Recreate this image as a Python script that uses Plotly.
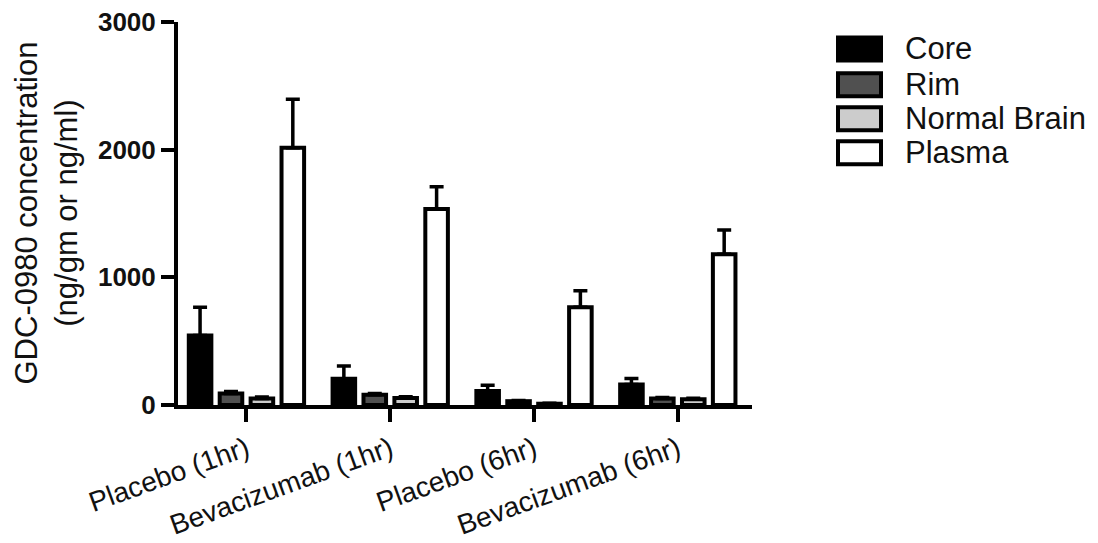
import plotly.graph_objects as go

# ---- data ----
categories = ["Placebo (1hr)", "Bevacizumab (1hr)", "Placebo (6hr)", "Bevacizumab (6hr)"]
series_names = ["Core", "Rim", "Normal Brain", "Plasma"]
core = [545, 205, 110, 160]
core_err = [220, 100, 45, 47]
rim = [90, 80, 30, 50]
rim_err = [15, 10, 5, 8]
normal_brain = [50, 55, 10, 45]
normal_brain_err = [12, 10, 3, 8]
plasma = [2015, 1535, 765, 1180]
plasma_err = [380, 175, 130, 190]
y_ticks = [0, 1000, 2000, 3000]

values = [core, rim, normal_brain, plasma]
errors = [core_err, rim_err, normal_brain_err, plasma_err]
fills = ["#000000", "#505050", "#cccccc", "#ffffff"]

FONT = "Arial, Liberation Sans, sans-serif"
W, H = 1098, 543
ML, MR, MT, MB = 178, 346, 21.5, 137.5
PW, PH = W - ML - MR, H - MT - MB

fig = go.Figure()
for name, v, e, c in zip(series_names, values, errors, fills):
    fig.add_trace(go.Bar(
        name=name, x=categories, y=v,
        marker=dict(color=c, line=dict(color="black", width=4)),
        error_y=dict(type="data", array=e, arrayminus=[0] * len(e), symmetric=False,
                     color="black", thickness=3.5, width=7),
        showlegend=False,
    ))


def px_x(p):
    return (p - ML) / PW


def px_y(p):
    return (H - MB - p) / PH


# custom legend (large boxes like the reference)
shapes = []
annotations = []
box_tops = [37, 73, 107, 141]
for name, c, top in zip(series_names, fills, box_tops):
    shapes.append(dict(type="rect", xref="paper", yref="paper",
                       x0=px_x(838), x1=px_x(881), y0=px_y(top), y1=px_y(top + 23),
                       fillcolor=c, line=dict(color="black", width=4)))
    annotations.append(dict(text=name, xref="paper", yref="paper",
                            x=px_x(903), y=px_y(top + 11.5), xanchor="left", yanchor="middle",
                            showarrow=False, font=dict(family=FONT, size=31, color="#111")))

annotations.append(dict(text="GDC-0980 concentration<br>(ng/gm or ng/ml)",
                        xref="paper", yref="paper", x=px_x(46), y=0.5,
                        xanchor="center", yanchor="middle", textangle=-90,
                        showarrow=False, font=dict(family=FONT, size=31, color="#111")))

fig.update_layout(
    width=W, height=H,
    margin=dict(l=ML, r=MR, t=MT, b=MB, autoexpand=False),
    paper_bgcolor="white", plot_bgcolor="white",
    barmode="group", bargap=0.14, bargroupgap=0.27,
    shapes=shapes, annotations=annotations,
    font=dict(family=FONT, color="#111"),
)
fig.update_xaxes(
    range=[-0.476, 3.516], showline=True, linecolor="black", linewidth=4,
    ticks="outside", ticklen=13, tickwidth=4, tickcolor="black",
    tickangle=-20, tickfont=dict(family=FONT, size=28, color="#111"),
    showgrid=False, zeroline=False,
)
fig.update_yaxes(
    range=[0, 3000], tickvals=y_ticks, showline=True, linecolor="black", linewidth=4,
    ticks="outside", ticklen=13, tickwidth=4, tickcolor="black",
    tickfont=dict(family=FONT, size=26, color="#111", weight="bold"),
    showgrid=False, zeroline=False,
)

fig.write_html("out.html")
